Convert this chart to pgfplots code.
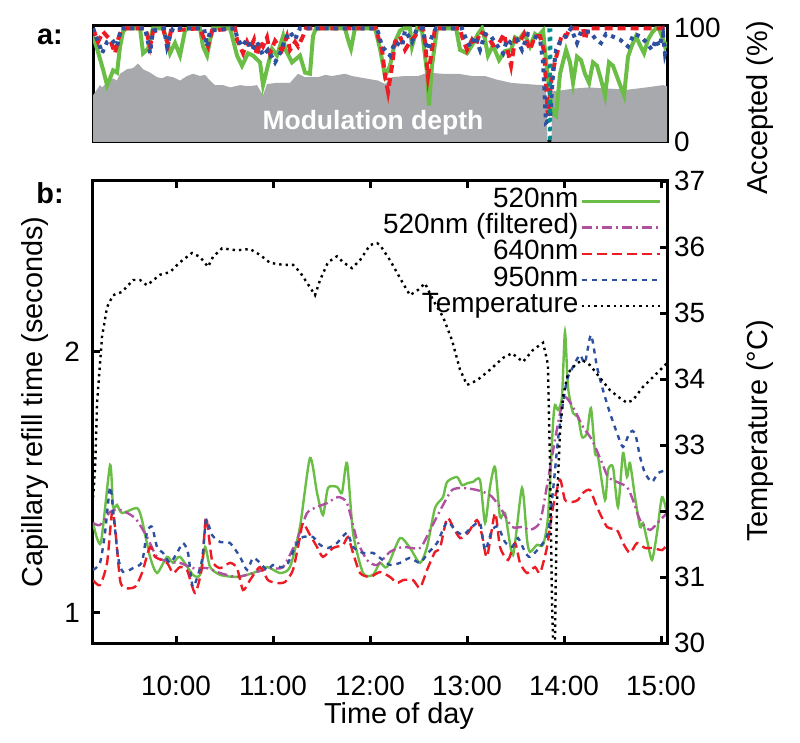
\documentclass[border=0pt]{standalone}
\usepackage{fontspec}
\setmainfont{Liberation Sans}
\usepackage{pgfplots}
\pgfplotsset{compat=1.18}
\definecolor{cgreen}{RGB}{106,190,69}
\definecolor{cmag}{RGB}{176,80,160}
\definecolor{cred}{RGB}{237,28,36}
\definecolor{cblue}{RGB}{46,80,160}
\definecolor{cteal}{RGB}{0,140,140}
\definecolor{cgray}{RGB}{167,169,172}
\newcommand{\tickfont}{\fontsize{14}{15}\selectfont}
\newcommand{\labfont}{\fontsize{14.5}{16}\selectfont}
\begin{document}
\begin{tikzpicture}
\path[use as bounding box] (0,0) rectangle (400bp,371.5bp);
% ---------------- panel a ----------------
\begin{axis}[
  at={(46.5bp,300.5bp)}, anchor=south west, scale only axis,
  width=287bp, height=58bp,
  xmin=9.144, xmax=15.062, ymin=0, ymax=102,
  xtick=\empty, ytick={0,100}, yticklabel pos=right,
  major tick length=0pt,
  axis line style={line width=1.5bp},
  tick label style={font=\tickfont},
  /pgf/number format/assume math mode=true,
]
\addplot[fill=cgray, draw=none] coordinates {
(9.144,41)(9.216,50)(9.237,48)(9.289,52)(9.351,56)(9.390,54)(9.423,60)(9.495,64)(9.557,65)(9.608,69)(9.660,64)(9.732,61)(9.804,57)(9.856,56)(9.907,58)(9.969,57)(10.041,54)(10.113,58)(10.175,60)(10.247,58)(10.299,59)(10.351,54)(10.402,50)(10.485,50)(10.560,48)(10.660,50)(10.750,49)(10.835,50)(10.897,41)(10.938,51)(11.041,52)(11.175,52)(11.258,60)(11.330,57)(11.464,57)(11.540,59)(11.608,58)(11.742,60)(11.814,58)(11.948,56)(12.082,54)(12.155,51)(12.227,57)(12.361,58)(12.495,58)(12.598,61)(12.742,60)(12.907,60)(13.052,58)(13.186,58)(13.300,55)(13.454,52)(13.600,51)(13.773,50)(13.814,50)(13.830,0)(13.870,0)(13.880,45)(13.938,45)(14.100,47)(14.258,48)(14.450,47)(14.660,46)(14.850,48)(15.021,50)(15.062,49)
} \closedcycle;
\addplot[cgreen, line width=2bp] coordinates {
(9.144,93)(9.186,82)(9.247,64)(9.289,50)(9.320,56)(9.351,63)(9.392,61)(9.423,84)(9.454,97)(9.485,100)(9.629,100)(9.660,78)(9.711,82)(9.763,100)(9.866,100)(9.907,89)(9.938,78)(9.990,87)(10.041,76)(10.093,98)(10.124,100)(10.247,100)(10.278,84)(10.320,76)(10.351,90)(10.381,100)(10.557,100)(10.629,76)(10.680,67)(10.742,78)(10.794,76)(10.866,70)(10.897,50)(10.938,64)(10.990,82)(11.041,76)(11.103,93)(11.124,82)(11.196,70)(11.278,76)(11.330,61)(11.381,60)(11.412,93)(11.443,100)(11.742,100)(11.773,90)(11.804,82)(11.845,100)(12.052,100)(12.103,82)(12.155,58)(12.206,67)(12.258,88)(12.309,98)(12.351,100)(12.412,100)(12.433,84)(12.485,100)(12.536,98)(12.588,61)(12.608,32)(12.639,67)(12.691,100)(12.887,100)(12.928,81)(13.000,78)(13.052,85)(13.113,95)(13.155,100)(13.186,90)(13.216,76)(13.268,85)(13.330,72)(13.392,80)(13.454,81)(13.495,92)(13.536,90)(13.588,96)(13.649,84)(13.701,95)(13.732,93)(13.784,98)(13.814,72)(13.856,40)(13.887,25)(13.918,23)(13.959,60)(14.021,81)(14.062,70)(14.093,52)(14.134,75)(14.175,72)(14.216,60)(14.258,52)(14.299,70)(14.340,67)(14.381,55)(14.423,41)(14.464,70)(14.505,67)(14.557,55)(14.619,41)(14.660,75)(14.701,85)(14.742,93)(14.784,85)(14.825,78)(14.866,90)(14.907,96)(14.948,100)(14.979,100)(15.021,90)(15.041,84)(15.062,88)
};
\addplot[cred, line width=2bp, dash pattern=on 4bp off 2.5bp] coordinates {
(9.144,100)(9.196,88)(9.247,97)(9.320,90)(9.371,78)(9.402,90)(9.443,100)(9.680,100)(9.701,95)(9.732,84)(9.763,97)(9.866,100)(9.887,93)(9.918,86)(9.948,98)(10.247,100)(10.278,93)(10.330,84)(10.371,98)(10.608,100)(10.629,90)(10.660,84)(10.691,78)(10.732,88)(10.763,82)(10.804,90)(10.835,76)(10.866,88)(10.897,84)(10.938,92)(10.969,78)(11.021,89)(11.093,81)(11.144,93)(11.175,81)(11.227,88)(11.258,84)(11.309,93)(11.340,100)(12.062,100)(12.082,93)(12.124,81)(12.155,58)(12.186,44)(12.227,67)(12.258,88)(12.309,93)(12.361,81)(12.412,88)(12.464,93)(12.515,100)(12.546,100)(12.567,88)(12.598,58)(12.639,81)(12.670,100)(12.928,100)(12.948,93)(13.000,81)(13.052,90)(13.093,85)(13.134,97)(13.216,93)(13.268,85)(13.330,87)(13.381,95)(13.454,67)(13.495,90)(13.536,87)(13.588,95)(13.649,81)(13.701,93)(13.753,93)(13.794,80)(13.835,23)(13.876,60)(13.938,81)(13.979,95)(14.021,93)(14.062,100)(14.196,100)(14.216,90)(14.247,100)(15.062,100)
};
\addplot[cblue, line width=2bp, dash pattern=on 2bp off 2.5bp] coordinates {
(9.144,100)(9.186,90)(9.216,84)(9.237,78)(9.289,88)(9.340,90)(9.392,84)(9.433,100)(9.680,100)(9.711,88)(9.732,78)(9.763,98)(9.876,100)(9.907,84)(9.938,93)(9.969,100)(10.289,100)(10.320,84)(10.351,98)(10.608,100)(10.629,92)(10.680,84)(10.732,90)(10.784,81)(10.835,88)(10.897,76)(10.948,81)(11.021,70)(11.072,78)(11.124,90)(11.175,97)(11.227,90)(11.278,100)(12.062,100)(12.082,97)(12.124,84)(12.155,81)(12.206,76)(12.258,88)(12.330,84)(12.361,98)(12.433,88)(12.485,100)(12.546,100)(12.567,88)(12.598,81)(12.639,93)(12.680,100)(12.948,100)(12.979,93)(13.031,84)(13.082,93)(13.134,81)(13.186,95)(13.247,93)(13.309,85)(13.371,78)(13.412,90)(13.454,87)(13.515,90)(13.567,81)(13.629,95)(13.691,93)(13.753,90)(13.784,70)(13.814,17)(13.856,20)(13.887,60)(13.918,81)(13.969,90)(14.021,93)(14.072,100)(14.134,87)(14.175,97)(14.268,97)(14.330,90)(14.381,87)(14.433,95)(14.495,93)(14.577,90)(14.660,84)(14.722,95)(14.784,93)(14.845,88)(14.907,81)(14.948,90)(14.979,84)(15.021,95)(15.041,78)(15.062,85)
};
\addplot[cteal, line width=1.5bp, dash pattern=on 2bp off 2.5bp] coordinates {
(13.845,100)(13.850,0)(13.860,0)(13.865,100)
};
\node[white, font=\bfseries\fontsize{13.3}{15}\selectfont] at (axis cs:12.03,17.4) {Modulation depth};
\end{axis}
% ---------------- panel b, left axis ----------------
\begin{axis}[
  at={(46.5bp,50bp)}, anchor=south west, scale only axis,
  width=287bp, height=231bp,
  xmin=9.144, xmax=15.062, ymin=0.885, ymax=2.655,
  xtick={10,11,12,13,14,15},
  xticklabels={10:00,11:00,12:00,13:00,14:00,15:00},
  xtick pos=both, xticklabel pos=lower,
  ytick={1,2}, ytick pos=left,
  major tick length=3.5bp,
  tick style={line width=1.5bp, black},
  axis line style={line width=1.5bp},
  tick label style={font=\tickfont},
  xticklabel style={yshift=-13bp},
  yticklabel style={xshift=-3bp},
  /pgf/number format/assume math mode=true,
]
\addplot[cgreen, line width=1.2bp, smooth, tension=0.4] coordinates {
(9.144,1.345)(9.224,1.268)(9.320,1.567)(9.351,1.406)(9.392,1.414)(9.443,1.383)(9.598,1.402)(9.649,1.356)(9.732,1.215)(9.804,1.153)(9.907,1.215)(9.969,1.192)(10.041,1.215)(10.175,1.146)(10.247,1.146)(10.299,1.253)(10.351,1.176)(10.454,1.146)(10.629,1.138)(10.794,1.153)(10.938,1.176)(11.072,1.153)(11.175,1.176)(11.278,1.330)(11.381,1.594)(11.454,1.460)(11.515,1.375)(11.567,1.479)(11.660,1.483)(11.711,1.460)(11.763,1.575)(11.825,1.307)(11.928,1.153)(12.031,1.146)(12.103,1.192)(12.175,1.176)(12.309,1.287)(12.412,1.249)(12.515,1.192)(12.588,1.253)(12.670,1.402)(12.753,1.444)(12.794,1.502)(12.897,1.521)(12.948,1.490)(13.010,1.498)(13.062,1.502)(13.134,1.510)(13.186,1.345)(13.237,1.483)(13.289,1.559)(13.340,1.368)(13.392,1.383)(13.474,1.222)(13.567,1.479)(13.619,1.280)(13.649,1.234)(13.722,1.261)(13.784,1.261)(13.835,1.368)(13.887,1.728)(13.907,1.797)(13.938,1.778)(13.979,1.828)(14.010,2.077)(14.041,1.866)(14.093,1.766)(14.144,1.751)(14.186,1.674)(14.237,1.690)(14.278,1.785)(14.320,1.613)(14.351,1.598)(14.423,1.433)(14.454,1.548)(14.505,1.559)(14.557,1.406)(14.608,1.613)(14.649,1.521)(14.680,1.575)(14.732,1.444)(14.784,1.330)(14.814,1.345)(14.856,1.280)(14.907,1.203)(14.959,1.307)(15.010,1.444)(15.062,1.383)
};
\addplot[cmag, line width=1.2bp, smooth, tension=0.4, dash pattern=on 5bp off 2bp on 1bp off 2bp] coordinates {
(9.144,1.345)(9.216,1.337)(9.320,1.387)(9.423,1.395)(9.577,1.364)(9.701,1.291)(9.804,1.215)(9.938,1.195)(10.041,1.192)(10.175,1.172)(10.320,1.172)(10.454,1.153)(10.629,1.138)(10.794,1.153)(10.969,1.172)(11.103,1.176)(11.247,1.280)(11.351,1.383)(11.454,1.406)(11.557,1.421)(11.670,1.444)(11.763,1.421)(11.866,1.280)(11.969,1.203)(12.072,1.184)(12.206,1.234)(12.340,1.253)(12.515,1.249)(12.619,1.318)(12.742,1.406)(12.845,1.471)(12.959,1.479)(13.103,1.471)(13.237,1.452)(13.340,1.406)(13.464,1.330)(13.577,1.330)(13.649,1.318)(13.753,1.349)(13.835,1.510)(13.907,1.663)(13.959,1.766)(14.010,1.828)(14.093,1.789)(14.196,1.713)(14.289,1.663)(14.392,1.575)(14.454,1.521)(14.546,1.502)(14.649,1.483)(14.711,1.433)(14.784,1.356)(14.887,1.318)(14.990,1.356)(15.062,1.383)
};
\addplot[cred, line width=1.2bp, smooth, tension=0.4, dash pattern=on 5bp off 2.5bp] coordinates {
(9.144,1.126)(9.216,1.107)(9.289,1.192)(9.340,1.387)(9.371,1.330)(9.423,1.126)(9.474,1.096)(9.577,1.100)(9.649,1.153)(9.732,1.253)(9.784,1.215)(9.907,1.192)(9.969,1.153)(10.041,1.176)(10.113,1.165)(10.196,1.077)(10.268,1.176)(10.309,1.368)(10.371,1.203)(10.454,1.172)(10.557,1.192)(10.629,1.172)(10.691,1.088)(10.763,1.126)(10.866,1.176)(10.948,1.126)(11.041,1.115)(11.124,1.119)(11.206,1.165)(11.278,1.291)(11.309,1.345)(11.381,1.299)(11.454,1.253)(11.515,1.215)(11.619,1.249)(11.722,1.261)(11.773,1.291)(11.825,1.230)(11.897,1.153)(12.000,1.138)(12.103,1.157)(12.206,1.138)(12.278,1.115)(12.340,1.126)(12.443,1.126)(12.515,1.096)(12.588,1.165)(12.670,1.234)(12.722,1.249)(12.794,1.364)(12.856,1.330)(12.928,1.287)(13.010,1.307)(13.103,1.356)(13.155,1.299)(13.206,1.215)(13.289,1.383)(13.340,1.253)(13.423,1.203)(13.495,1.268)(13.546,1.192)(13.619,1.153)(13.701,1.176)(13.753,1.153)(13.825,1.253)(13.887,1.406)(13.959,1.510)(14.010,1.433)(14.082,1.425)(14.144,1.433)(14.196,1.460)(14.268,1.471)(14.340,1.406)(14.443,1.330)(14.546,1.318)(14.608,1.268)(14.680,1.230)(14.753,1.268)(14.835,1.249)(14.918,1.249)(15.010,1.241)(15.062,1.261)
};
\addplot[cblue, line width=1.2bp, smooth, tension=0.4, dash pattern=on 2.5bp off 2.5bp] coordinates {
(9.144,1.165)(9.216,1.192)(9.268,1.307)(9.320,1.483)(9.351,1.395)(9.402,1.215)(9.454,1.157)(9.557,1.172)(9.649,1.195)(9.701,1.310)(9.753,1.330)(9.804,1.253)(9.866,1.230)(9.938,1.192)(10.010,1.230)(10.072,1.268)(10.124,1.230)(10.175,1.100)(10.268,1.203)(10.309,1.356)(10.371,1.299)(10.454,1.272)(10.557,1.268)(10.660,1.215)(10.732,1.165)(10.794,1.211)(10.866,1.192)(10.938,1.165)(11.000,1.184)(11.072,1.176)(11.144,1.184)(11.247,1.268)(11.309,1.291)(11.412,1.291)(11.485,1.261)(11.567,1.249)(11.660,1.268)(11.763,1.307)(11.825,1.253)(11.928,1.230)(12.031,1.230)(12.103,1.211)(12.206,1.184)(12.309,1.192)(12.412,1.211)(12.515,1.192)(12.598,1.230)(12.691,1.268)(12.794,1.349)(12.876,1.318)(12.959,1.299)(13.052,1.330)(13.134,1.345)(13.186,1.241)(13.258,1.318)(13.320,1.330)(13.392,1.272)(13.464,1.253)(13.526,1.287)(13.598,1.234)(13.649,1.215)(13.753,1.253)(13.835,1.307)(13.887,1.471)(13.938,1.663)(13.979,1.778)(14.031,1.893)(14.093,1.943)(14.165,1.989)(14.216,1.958)(14.278,2.065)(14.340,1.943)(14.402,1.854)(14.474,1.766)(14.546,1.690)(14.608,1.636)(14.680,1.693)(14.732,1.690)(14.784,1.598)(14.835,1.536)(14.907,1.502)(14.969,1.536)(15.062,1.548)
};
\end{axis}
% ---------------- panel b, right axis ----------------
\begin{axis}[
  at={(46.5bp,50bp)}, anchor=south west, scale only axis,
  width=287bp, height=231bp,
  xmin=9.144, xmax=15.062, ymin=30, ymax=37,
  hide x axis, axis y line*=right,
  ytick={30,31,32,33,34,35,36,37},
  major tick length=3.5bp,
  tick style={line width=1.5bp, black},
  axis line style={line width=1.5bp},
  tick label style={font=\tickfont},
  /pgf/number format/assume math mode=true,
  legend plot pos=right,
  legend cell align=right,
  legend image code/.code={\draw[#1] (0bp,0bp) -- (39bp,0bp);},
  legend style={at={(0.99,0.985)}, anchor=north east, draw=none, fill=none,
    inner sep=0pt, font=\fontsize{14}{16}\selectfont,
    nodes={inner sep=1bp, text height=8.6bp, text depth=2.5bp},
    /tikz/every even column/.append style={column sep=11bp}},
]
\addlegendimage{cgreen, line width=1.2bp}
\addlegendentry{520nm}
\addlegendimage{cmag, line width=1.2bp, dash pattern=on 5bp off 2bp on 1bp off 2bp}
\addlegendentry{520nm (filtered)}
\addlegendimage{cred, line width=1.2bp, dash pattern=on 5bp off 2.5bp}
\addlegendentry{640nm}
\addlegendimage{cblue, line width=1.2bp, dash pattern=on 2.5bp off 2.5bp}
\addlegendentry{950nm}
\addplot[black, line width=1.2bp, dash pattern=on 1.2bp off 2bp] coordinates {
(9.144,32.20)(9.165,32.62)(9.186,33.64)(9.237,34.64)(9.289,35.09)(9.351,35.27)(9.443,35.32)(9.557,35.50)(9.629,35.50)(9.701,35.42)(9.835,35.58)(9.938,35.62)(10.041,35.77)(10.165,35.91)(10.247,35.85)(10.330,35.70)(10.381,35.85)(10.474,35.98)(10.629,35.95)(10.763,35.97)(10.866,35.88)(10.969,35.76)(11.103,35.73)(11.206,35.73)(11.278,35.62)(11.381,35.39)(11.433,35.27)(11.485,35.50)(11.567,35.77)(11.660,35.86)(11.722,35.77)(11.814,35.68)(11.897,35.80)(12.000,36.03)(12.072,36.06)(12.103,36.03)(12.206,35.80)(12.340,35.45)(12.412,35.27)(12.495,35.35)(12.567,35.45)(12.649,35.20)(12.753,34.94)(12.845,34.59)(12.928,34.14)(13.000,33.91)(13.103,33.98)(13.237,34.14)(13.371,34.32)(13.464,34.39)(13.577,34.26)(13.680,34.44)(13.784,34.55)(13.825,34.29)(13.835,34.18)(13.856,32.67)(13.876,30.65)(13.887,30.05)(13.907,30.05)(13.912,30.65)(13.928,32.17)(13.959,33.18)(13.990,33.73)(14.041,34.09)(14.113,34.21)(14.186,34.29)(14.268,34.21)(14.371,34.02)(14.474,33.83)(14.577,33.71)(14.649,33.64)(14.711,33.68)(14.814,33.88)(14.918,34.03)(15.021,34.18)(15.062,34.24)
};
\addlegendentry{Temperature}
\end{axis}
% ---------------- labels ----------------
\node[font=\bfseries\labfont] at (25bp,353bp) {a:};
\node[font=\bfseries\labfont] at (25bp,275bp) {b:};
\node[font=\labfont, rotate=90] at (380bp,317.5bp) {Accepted (\%)};
\node[font=\labfont, rotate=90] at (380bp,156bp) {Temperature (°C)};
\node[font=\labfont, rotate=90] at (17.5bp,170.5bp) {Capillary refill time (seconds)};
\node[font=\labfont] at (199.5bp,13.5bp) {Time of day};
\end{tikzpicture}
\end{document}
